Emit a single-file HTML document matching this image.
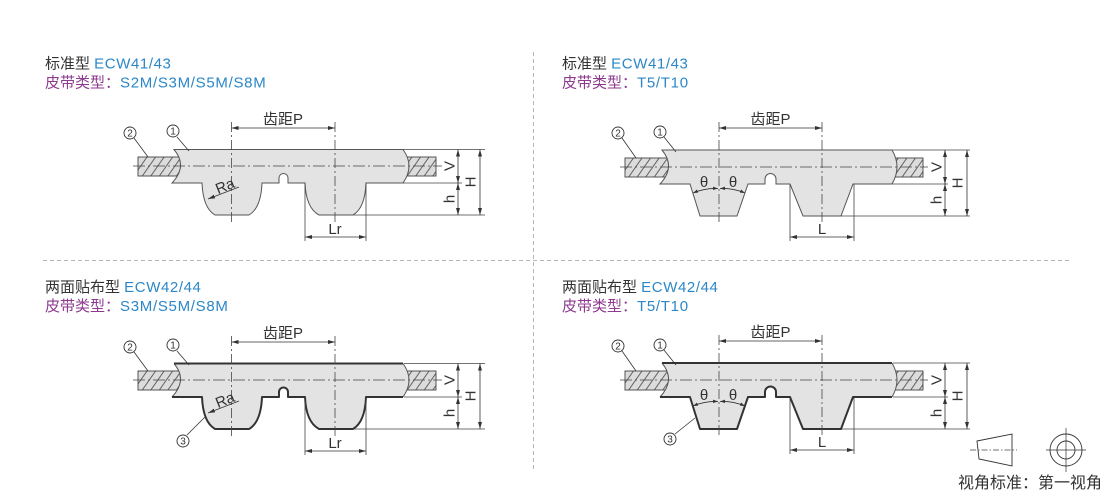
<!DOCTYPE html>
<html>
<head>
<meta charset="utf-8">
<style>
html,body{margin:0;padding:0;background:#fff;}
svg{display:block;}
text{font-family:"Liberation Sans","Noto Sans CJK SC",sans-serif;}
</style>
</head>
<body>
<svg width="1110" height="491" viewBox="0 0 1110 491" xmlns="http://www.w3.org/2000/svg">
<defs>
  <marker id="ar" viewBox="0 0 7 4" refX="7" refY="2" markerWidth="7" markerHeight="4" markerUnits="userSpaceOnUse" orient="auto-start-reverse">
    <path d="M0,0 L7,2 L0,4 Z" fill="#333"/>
  </marker>
  <marker id="as" viewBox="0 0 6 4" refX="6" refY="2" markerWidth="5" markerHeight="3.4" markerUnits="userSpaceOnUse" orient="auto-start-reverse">
    <path d="M0,0 L6,2 L0,4 Z" fill="#333"/>
  </marker>
  <pattern id="hp" patternUnits="userSpaceOnUse" width="7" height="10" patternTransform="rotate(35)">
    <rect width="7" height="10" fill="#dcdcdc"/>
    <line x1="0.5" y1="0" x2="0.5" y2="10" stroke="#555" stroke-width="0.9"/>
  </pattern>
</defs>

<!-- separators -->
<path d="M533.5,52V470" stroke="#b5b5b5" stroke-width="1" stroke-dasharray="4 3" fill="none"/>
<path d="M43,260.5H1070" stroke="#b5b5b5" stroke-width="1" stroke-dasharray="4 3" fill="none"/>

<!-- titles -->
<text x="45" y="68.3" font-size="15"><tspan fill="#333">标准型 </tspan><tspan fill="#2b87c8" letter-spacing="0.6">ECW41/43</tspan></text>
<text x="45" y="87.7" font-size="15"><tspan fill="#8d3a8f">皮带类型：</tspan><tspan fill="#2b87c8" letter-spacing="0.7">S2M/S3M/S5M/S8M</tspan></text>

<text x="562" y="68.3" font-size="15"><tspan fill="#333">标准型 </tspan><tspan fill="#2b87c8" letter-spacing="0.6">ECW41/43</tspan></text>
<text x="562" y="87.7" font-size="15"><tspan fill="#8d3a8f">皮带类型：</tspan><tspan fill="#2b87c8" letter-spacing="0.7">T5/T10</tspan></text>

<text x="45" y="292" font-size="15"><tspan fill="#333">两面贴布型 </tspan><tspan fill="#2b87c8" letter-spacing="0.6">ECW42/44</tspan></text>
<text x="45" y="311" font-size="15"><tspan fill="#8d3a8f">皮带类型：</tspan><tspan fill="#2b87c8" letter-spacing="0.7">S3M/S5M/S8M</tspan></text>

<text x="562" y="292" font-size="15"><tspan fill="#333">两面贴布型 </tspan><tspan fill="#2b87c8" letter-spacing="0.6">ECW42/44</tspan></text>
<text x="562" y="311" font-size="15"><tspan fill="#8d3a8f">皮带类型：</tspan><tspan fill="#2b87c8" letter-spacing="0.7">T5/T10</tspan></text>

<!-- ================= TOP LEFT (S type) ================= -->
<g>
  <rect x="138" y="157" width="44" height="19" fill="url(#hp)" stroke="#444" stroke-width="0.9"/>
  <rect x="398" y="157" width="38" height="19" fill="url(#hp)" stroke="#444" stroke-width="0.9"/>
  <path d="M174,149.5 L403,149.5 Q415,166 403,183 L366,183 Q365,208 353,215 L319,215 Q306,208 305,183 L288,183 L288,178 A4.5,4.5 0 0 0 279,178 L279,183 L262,183 Q261,208 249,215 L215,215 Q203,208 202,183 L172,183 Q188,166 174,149.5 Z" fill="#e3e3e3" stroke="#555" stroke-width="1"/>
  <path d="M133,166H442" stroke="#444" stroke-width="0.8" stroke-dasharray="12 3 2 3" fill="none"/>
  <path d="M231.5,122V222M335,122V222" stroke="#444" stroke-width="0.8" stroke-dasharray="10 3 2 3" fill="none"/>
  <path d="M403,149.5H485M403,183H462M353,215H485M305,183V241M366,183V241" stroke="#444" stroke-width="0.8" fill="none"/>
  <g stroke="#333" stroke-width="0.8" fill="none" marker-start="url(#ar)" marker-end="url(#ar)">
    <path d="M231.5,128H335"/>
    <path d="M458,149.5V183"/>
    <path d="M458,183V215"/>
    <path d="M480,149.5V215"/>
    <path d="M305,237H366"/>
  </g>
  <path d="M239,187L208,199" stroke="#333" stroke-width="0.8" fill="none" marker-end="url(#ar)"/>
  <text x="283" y="124" font-size="15" fill="#333" text-anchor="middle">齿距P</text>
  <text transform="translate(449,166) rotate(-90)" y="5.4" font-size="15" fill="#333" text-anchor="middle">V</text>
  <text transform="translate(449,199) rotate(-90)" y="5.4" font-size="15" fill="#333" text-anchor="middle">h</text>
  <text transform="translate(470,182) rotate(-90)" y="5.4" font-size="15" fill="#333" text-anchor="middle">H</text>
  <text x="335" y="234" font-size="15" fill="#333" text-anchor="middle">Lr</text>
  <text transform="translate(225,186) rotate(-22)" y="5" font-size="15" fill="#333" text-anchor="middle">Ra</text>
  <path d="M134,138L148,157M177,137L189,151" stroke="#333" stroke-width="0.8" fill="none"/>
  <circle cx="130" cy="133" r="6" fill="#fff" stroke="#333" stroke-width="0.9"/>
  <text x="130" y="136.6" font-size="10" fill="#333" text-anchor="middle">2</text>
  <circle cx="173" cy="131" r="6" fill="#fff" stroke="#333" stroke-width="0.9"/>
  <text x="173" y="134.6" font-size="10" fill="#333" text-anchor="middle">1</text>
</g>

<!-- ================= TOP RIGHT (T type) ================= -->
<g>
  <rect x="625" y="158" width="46" height="19" fill="url(#hp)" stroke="#444" stroke-width="0.9"/>
  <rect x="887" y="158" width="36" height="19" fill="url(#hp)" stroke="#444" stroke-width="0.9"/>
  <path d="M662,150 L892,150 Q902,167 892,184 L853,184 L841,216 L803,216 L790,184 L776,184 L776,179 A5.5,5.5 0 0 0 765,179 L765,184 L748,184 L737,216 L700,216 L690,184 L660,184 Q676,167 662,150 Z" fill="#e3e3e3" stroke="#555" stroke-width="1"/>
  <path d="M620,167H928" stroke="#444" stroke-width="0.8" stroke-dasharray="12 3 2 3" fill="none"/>
  <path d="M719,122V222M822,122V222" stroke="#444" stroke-width="0.8" stroke-dasharray="10 3 2 3" fill="none"/>
  <path d="M892,150H970M892,184H948M841,216H970M790,184V241M854,184V241" stroke="#444" stroke-width="0.8" fill="none"/>
  <g stroke="#333" stroke-width="0.8" fill="none" marker-start="url(#ar)" marker-end="url(#ar)">
    <path d="M719,128H822"/>
    <path d="M945,150V184"/>
    <path d="M945,184V216"/>
    <path d="M967,150V216"/>
    <path d="M790,237H854"/>
  </g>
  <g stroke="#333" stroke-width="0.8" fill="none" marker-start="url(#as)" marker-end="url(#as)">
    <path d="M693,193 Q705,188 718,188.5"/>
    <path d="M745,193 Q733,188 720,188.5"/>
  </g>
  <text x="770.5" y="124" font-size="15" fill="#333" text-anchor="middle">齿距P</text>
  <text transform="translate(936,167) rotate(-90)" y="5.4" font-size="15" fill="#333" text-anchor="middle">V</text>
  <text transform="translate(936,200) rotate(-90)" y="5.4" font-size="15" fill="#333" text-anchor="middle">h</text>
  <text transform="translate(957,183) rotate(-90)" y="5.4" font-size="15" fill="#333" text-anchor="middle">H</text>
  <text x="822" y="234" font-size="15" fill="#333" text-anchor="middle">L</text>
  <text x="704" y="187" font-size="15" fill="#333" text-anchor="middle">θ</text>
  <text x="733" y="187" font-size="15" fill="#333" text-anchor="middle">θ</text>
  <path d="M622,138L636,158M664,137L676,152" stroke="#333" stroke-width="0.8" fill="none"/>
  <circle cx="618" cy="133" r="6" fill="#fff" stroke="#333" stroke-width="0.9"/>
  <text x="618" y="136.6" font-size="10" fill="#333" text-anchor="middle">2</text>
  <circle cx="660" cy="132" r="6" fill="#fff" stroke="#333" stroke-width="0.9"/>
  <text x="660" y="135.6" font-size="10" fill="#333" text-anchor="middle">1</text>
</g>

<!-- ================= BOTTOM LEFT (S type, double fabric) ================= -->
<g transform="translate(0,214)">
  <rect x="138" y="157" width="44" height="19" fill="url(#hp)" stroke="#444" stroke-width="0.9"/>
  <rect x="398" y="157" width="38" height="19" fill="url(#hp)" stroke="#444" stroke-width="0.9"/>
  <path d="M174,149.5 L403,149.5 Q415,166 403,183 L366,183 Q365,208 353,215 L319,215 Q306,208 305,183 L288,183 L288,178 A4.5,4.5 0 0 0 279,178 L279,183 L262,183 Q261,208 249,215 L215,215 Q203,208 202,183 L172,183 Q188,166 174,149.5 Z" fill="#e3e3e3" stroke="none"/>
  <path d="M403,149.5 Q415,166 403,183 M172,183 Q188,166 174,149.5" stroke="#555" stroke-width="1" fill="none"/>
  <path d="M174,149.5 L403,149.5" stroke="#333" stroke-width="2" fill="none"/>
  <path d="M403,183 L366,183 Q365,208 353,215 L319,215 Q306,208 305,183 L288,183 L288,178 A4.5,4.5 0 0 0 279,178 L279,183 L262,183 Q261,208 249,215 L215,215 Q203,208 202,183 L172,183" stroke="#333" stroke-width="2" fill="none" stroke-linejoin="round"/>
  <path d="M133,166H442" stroke="#444" stroke-width="0.8" stroke-dasharray="12 3 2 3" fill="none"/>
  <path d="M231.5,122V222M335,122V222" stroke="#444" stroke-width="0.8" stroke-dasharray="10 3 2 3" fill="none"/>
  <path d="M404,149.5H485M404,183H462M354,215H485M305,184V241M366,184V241" stroke="#444" stroke-width="0.8" fill="none"/>
  <g stroke="#333" stroke-width="0.8" fill="none" marker-start="url(#ar)" marker-end="url(#ar)">
    <path d="M231.5,128H335"/>
    <path d="M458,149.5V183"/>
    <path d="M458,183V215"/>
    <path d="M480,149.5V215"/>
    <path d="M305,237H366"/>
  </g>
  <path d="M239,187L208,199" stroke="#333" stroke-width="0.8" fill="none" marker-end="url(#ar)"/>
  <text x="283" y="124" font-size="15" fill="#333" text-anchor="middle">齿距P</text>
  <text transform="translate(449,166) rotate(-90)" y="5.4" font-size="15" fill="#333" text-anchor="middle">V</text>
  <text transform="translate(449,199) rotate(-90)" y="5.4" font-size="15" fill="#333" text-anchor="middle">h</text>
  <text transform="translate(470,182) rotate(-90)" y="5.4" font-size="15" fill="#333" text-anchor="middle">H</text>
  <text x="335" y="234" font-size="15" fill="#333" text-anchor="middle">Lr</text>
  <text transform="translate(225,186) rotate(-22)" y="5" font-size="15" fill="#333" text-anchor="middle">Ra</text>
  <path d="M134,138L148,157M177,137L189,151M187,221L205,203" stroke="#333" stroke-width="0.8" fill="none"/>
  <circle cx="130" cy="133" r="6" fill="#fff" stroke="#333" stroke-width="0.9"/>
  <text x="130" y="136.6" font-size="10" fill="#333" text-anchor="middle">2</text>
  <circle cx="173" cy="131" r="6" fill="#fff" stroke="#333" stroke-width="0.9"/>
  <text x="173" y="134.6" font-size="10" fill="#333" text-anchor="middle">1</text>
  <circle cx="183" cy="227" r="6" fill="#fff" stroke="#333" stroke-width="0.9"/>
  <text x="183" y="230.6" font-size="10" fill="#333" text-anchor="middle">3</text>
</g>

<!-- ================= BOTTOM RIGHT (T type, double fabric) ================= -->
<g transform="translate(0,213)">
  <rect x="625" y="158" width="46" height="19" fill="url(#hp)" stroke="#444" stroke-width="0.9"/>
  <rect x="887" y="158" width="36" height="19" fill="url(#hp)" stroke="#444" stroke-width="0.9"/>
  <path d="M662,150 L892,150 Q902,167 892,184 L853,184 L841,216 L803,216 L790,184 L776,184 L776,179 A5.5,5.5 0 0 0 765,179 L765,184 L748,184 L737,216 L700,216 L690,184 L660,184 Q676,167 662,150 Z" fill="#e3e3e3" stroke="none"/>
  <path d="M892,150 Q902,167 892,184 M660,184 Q676,167 662,150" stroke="#555" stroke-width="1" fill="none"/>
  <path d="M662,150 L892,150" stroke="#333" stroke-width="2" fill="none"/>
  <path d="M892,184 L853,184 L841,216 L803,216 L790,184 L776,184 L776,179 A5.5,5.5 0 0 0 765,179 L765,184 L748,184 L737,216 L700,216 L690,184 L660,184" stroke="#333" stroke-width="2" fill="none" stroke-linejoin="round"/>
  <path d="M620,167H928" stroke="#444" stroke-width="0.8" stroke-dasharray="12 3 2 3" fill="none"/>
  <path d="M719,122V222M822,122V222" stroke="#444" stroke-width="0.8" stroke-dasharray="10 3 2 3" fill="none"/>
  <path d="M893,150H970M893,184H948M842,216H970M790,185V241M854,185V241" stroke="#444" stroke-width="0.8" fill="none"/>
  <g stroke="#333" stroke-width="0.8" fill="none" marker-start="url(#ar)" marker-end="url(#ar)">
    <path d="M719,128H822"/>
    <path d="M945,150V184"/>
    <path d="M945,184V216"/>
    <path d="M967,150V216"/>
    <path d="M790,237H854"/>
  </g>
  <g stroke="#333" stroke-width="0.8" fill="none" marker-start="url(#as)" marker-end="url(#as)">
    <path d="M693,193 Q705,188 718,188.5"/>
    <path d="M745,193 Q733,188 720,188.5"/>
  </g>
  <text x="770.5" y="124" font-size="15" fill="#333" text-anchor="middle">齿距P</text>
  <text transform="translate(936,167) rotate(-90)" y="5.4" font-size="15" fill="#333" text-anchor="middle">V</text>
  <text transform="translate(936,200) rotate(-90)" y="5.4" font-size="15" fill="#333" text-anchor="middle">h</text>
  <text transform="translate(957,183) rotate(-90)" y="5.4" font-size="15" fill="#333" text-anchor="middle">H</text>
  <text x="822" y="234" font-size="15" fill="#333" text-anchor="middle">L</text>
  <text x="704" y="187" font-size="15" fill="#333" text-anchor="middle">θ</text>
  <text x="733" y="187" font-size="15" fill="#333" text-anchor="middle">θ</text>
  <path d="M622,138L636,158M664,137L676,152M675,221L695,205" stroke="#333" stroke-width="0.8" fill="none"/>
  <circle cx="618" cy="133" r="6" fill="#fff" stroke="#333" stroke-width="0.9"/>
  <text x="618" y="136.6" font-size="10" fill="#333" text-anchor="middle">2</text>
  <circle cx="660" cy="132" r="6" fill="#fff" stroke="#333" stroke-width="0.9"/>
  <text x="660" y="135.6" font-size="10" fill="#333" text-anchor="middle">1</text>
  <circle cx="670" cy="226" r="6" fill="#fff" stroke="#333" stroke-width="0.9"/>
  <text x="670" y="229.6" font-size="10" fill="#333" text-anchor="middle">3</text>
</g>

<!-- projection symbol -->
<path d="M977,441 L1012,434 L1012,466 L979,459 Z" fill="none" stroke="#333" stroke-width="0.9"/>
<path d="M970,450H1017" stroke="#444" stroke-width="0.7" stroke-dasharray="6 2 1.5 2" fill="none"/>
<circle cx="1066" cy="450" r="16" fill="none" stroke="#333" stroke-width="0.9"/>
<circle cx="1066" cy="450" r="9" fill="none" stroke="#333" stroke-width="0.9"/>
<path d="M1046,450H1086M1066,428V472" stroke="#333" stroke-width="0.7" fill="none"/>
<text x="958" y="488" font-size="16" fill="#333">视角标准：第一视角</text>
</svg>
</body>
</html>
